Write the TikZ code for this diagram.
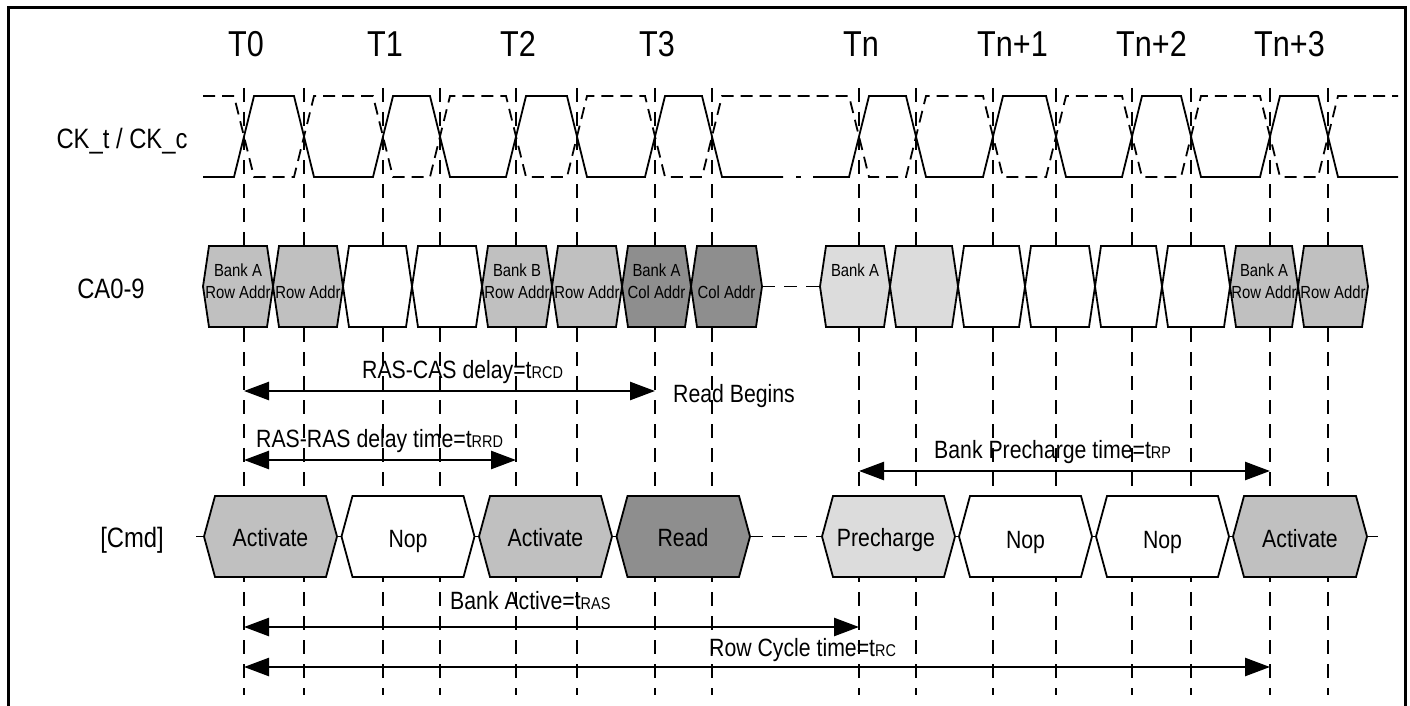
\documentclass[tikz,border=0pt]{standalone}
\usepackage{fontspec}
\setmainfont{Liberation Sans}[FakeStretch=0.85]
\usetikzlibrary{arrows.meta}
\definecolor{midgray}{HTML}{C0C0C0}
\definecolor{dkgray}{HTML}{8E8E8E}
\definecolor{ltgray}{HTML}{DCDCDC}
\newcommand\hexbox[4]{%
  \filldraw[hexline, fill=#4] (#1,\ymid) -- (#1+#3,\ytop) -- (#2-#3,\ytop) -- (#2,\ymid) -- (#2-#3,\ybot) -- (#1+#3,\ybot) -- cycle;}
\tikzset{
  vline/.style={line width=1.6pt, dash pattern=on 14pt off 10pt},
  clk/.style={line width=1.8pt, line join=miter},
  clkc/.style={clk, dash pattern=on 12pt off 7pt},
  hexline/.style={line width=1.8pt, line join=miter},
  midline/.style={line width=1.8pt},
  middash/.style={line width=1.8pt, dash pattern=on 13pt off 9pt},
  dimarrow/.style={line width=2.5pt, {Triangle[length=25pt,width=18pt]}-{Triangle[length=25pt,width=18pt]}},
  rowlbl/.style={font=\fontsize{28}{30}\selectfont, inner sep=0, anchor=base},
  tlbl/.style={font=\fontsize{36}{40}\selectfont, anchor=base west, inner sep=0},
  ann/.style={font=\fontsize{25}{30}\selectfont, anchor=base west, inner sep=0},
  cmdtxt/.style={font=\fontsize{25}{30}\selectfont, inner sep=0, anchor=base},
  catxt/.style={font=\fontsize{17.5}{22}\selectfont, inner sep=0, anchor=base},
}
\newcommand\subsz[1]{{\fontsize{17}{20}\selectfont #1}}
\begin{document}
\begin{tikzpicture}[x=1pt,y=-1pt]
\useasboundingbox (0,0) rectangle (1410,706);
\fill[white] (0,0) rectangle (1410,706);
% frame
\draw[line width=3pt] (8,706) -- (8,8) -- (1405,8) -- (1405,706);
% grid lines
\foreach \i/\x in {0/244,1/304,2/383,3/440,4/516,5/577,6/655,7/712,8/859,9/916,10/993,11/1056,12/1132,13/1191,14/1270,15/1328}{
  \coordinate (gt\i) at (\x,88);
  \coordinate (gb\i) at (\x,695);
  \draw[vline] (gt\i) -- (gb\i);
}
% T labels
\node[tlbl] (T0) at (228,57) {T0};
\node[tlbl] (T1) at (367,57) {T1};
\node[tlbl] (T2) at (500,57) {T2};
\node[tlbl] (T3) at (639,57) {T3};
\node[tlbl] (Tn) at (843,57) {Tn};
\node[tlbl] (Tn1) at (977,57) {Tn+1};
\node[tlbl] (Tn2) at (1116,57) {Tn+2};
\node[tlbl] (Tn3) at (1254,57) {Tn+3};
% row labels
\node[rowlbl] (ck) at (122,148) {CK\_t / CK\_c};
\node[rowlbl] (ca) at (111,298) {CA0-9};
\node[rowlbl] (cmd) at (132,547) {[Cmd]};
% clock
\draw[clk] (203,177) -- (234,177) -- (254,96) -- (294,96) -- (314,177) -- (373,177) -- (393,96) -- (430,96) -- (450,177) -- (506,177) -- (526,96) -- (567,96) -- (587,177) -- (645,177) -- (665,96) -- (702,96) -- (722,177) -- (783,177);
\draw[clk] (796,177) -- (801,177);
\draw[clk] (813,177) -- (849,177) -- (869,96) -- (906,96) -- (926,177) -- (983,177) -- (1003,96) -- (1046,96) -- (1066,177) -- (1122,177) -- (1142,96) -- (1181,96) -- (1201,177) -- (1260,177) -- (1280,96) -- (1318,96) -- (1338,177) -- (1398,177);
\draw[clkc] (203,96) -- (234,96) -- (254,177) -- (294,177) -- (314,96) -- (373,96) -- (393,177) -- (430,177) -- (450,96) -- (506,96) -- (526,177) -- (567,177) -- (587,96) -- (645,96) -- (665,177) -- (702,177) -- (722,96) -- (849,96) -- (869,177) -- (906,177) -- (926,96) -- (983,96) -- (1003,177) -- (1046,177) -- (1066,96) -- (1122,96) -- (1142,177) -- (1181,177) -- (1201,96) -- (1260,96) -- (1280,177) -- (1318,177) -- (1338,96) -- (1398,96);
% CA row
\def\ytop{246}\def\ybot{327}\def\ymid{286.5}
\draw[middash] (762,286.5) -- (820,286.5);
\hexbox{203}{273}{6}{midgray}
\hexbox{273}{343}{6}{midgray}
\hexbox{343}{412}{6}{white}
\hexbox{412}{482}{6}{white}
\hexbox{482}{552}{6}{midgray}
\hexbox{552}{622}{6}{midgray}
\hexbox{622}{691}{6}{dkgray}
\hexbox{691}{762}{6}{dkgray}
\hexbox{820}{890}{6}{ltgray}
\hexbox{890}{958}{6}{ltgray}
\hexbox{958}{1025}{6}{white}
\hexbox{1025}{1095}{6}{white}
\hexbox{1095}{1162}{6}{white}
\hexbox{1162}{1230}{6}{white}
\hexbox{1230}{1298}{6}{midgray}
\hexbox{1298}{1368}{6}{midgray}
\node[catxt] (ca1a) at (238,276) {Bank A};
\node[catxt] (ca1b) at (238,298) {Row Addr};
\node[catxt] (ca2b) at (308,298) {Row Addr};
\node[catxt] (ca5a) at (517,276) {Bank B};
\node[catxt] (ca5b) at (517,298) {Row Addr};
\node[catxt] (ca6b) at (587,298) {Row Addr};
\node[catxt] (ca7a) at (656.5,276) {Bank A};
\node[catxt] (ca7b) at (656.5,298) {Col Addr};
\node[catxt] (ca8b) at (726.5,298) {Col Addr};
\node[catxt] (ca9a) at (855,276) {Bank A};
\node[catxt] (ca15a) at (1264,276) {Bank A};
\node[catxt] (ca15b) at (1264,298) {Row Addr};
\node[catxt] (ca16b) at (1333,298) {Row Addr};
% Cmd row
\def\ytop{496}\def\ybot{577}\def\ymid{536.5}
\draw[midline] (196,536.5) -- (750,536.5);
\draw[middash] (750,536.5) -- (822,536.5);
\draw[midline] (822,536.5) -- (1378,536.5);
\hexbox{204}{337}{11}{midgray}
\hexbox{341.5}{474.5}{11}{white}
\hexbox{479}{612}{11}{midgray}
\hexbox{616.5}{750}{11}{dkgray}
\hexbox{822}{955}{11}{ltgray}
\hexbox{959}{1092}{11}{white}
\hexbox{1096}{1229}{11}{white}
\hexbox{1233}{1367}{11}{midgray}
\node[cmdtxt] (c1) at (270.5,546) {Activate};
\node[cmdtxt] (c2) at (408,547) {Nop};
\node[cmdtxt] (c3) at (545.5,546) {Activate};
\node[cmdtxt] (c4) at (683,546) {Read};
\node[cmdtxt] (c5) at (886,546) {Precharge};
\node[cmdtxt] (c6) at (1025.5,548) {Nop};
\node[cmdtxt] (c7) at (1162.5,548) {Nop};
\node[cmdtxt] (c8) at (1300,547) {Activate};
% timing arrows
\coordinate (rcdA) at (244,391); \coordinate (rcdB) at (655,391);
\coordinate (rrdA) at (244,460); \coordinate (rrdB) at (516,460);
\coordinate (rpA) at (859,471); \coordinate (rpB) at (1270,471);
\coordinate (rasA) at (244,627); \coordinate (rasB) at (859,627);
\coordinate (rcA) at (244,667); \coordinate (rcB) at (1270,667);
\draw[dimarrow] (rcdA) -- (rcdB);
\draw[dimarrow] (rrdA) -- (rrdB);
\draw[dimarrow] (rpA) -- (rpB);
\draw[dimarrow] (rasA) -- (rasB);
\draw[dimarrow] (rcA) -- (rcB);
\node[ann] (lrcd) at (362,378) {RAS-CAS delay=t\subsz{RCD}};
\node[ann] (lread) at (673,402) {Read Begins};
\node[ann] (lrrd) at (256,447) {RAS-RAS delay time=t\subsz{RRD}};
\node[ann] (lrp) at (934,458) {Bank Precharge time=t\subsz{RP}};
\node[ann] (lras) at (450,609) {Bank Active=t\subsz{RAS}};
\node[ann] (lrc) at (709,656) {Row Cycle time=t\subsz{RC}};
\end{tikzpicture}
\end{document}
